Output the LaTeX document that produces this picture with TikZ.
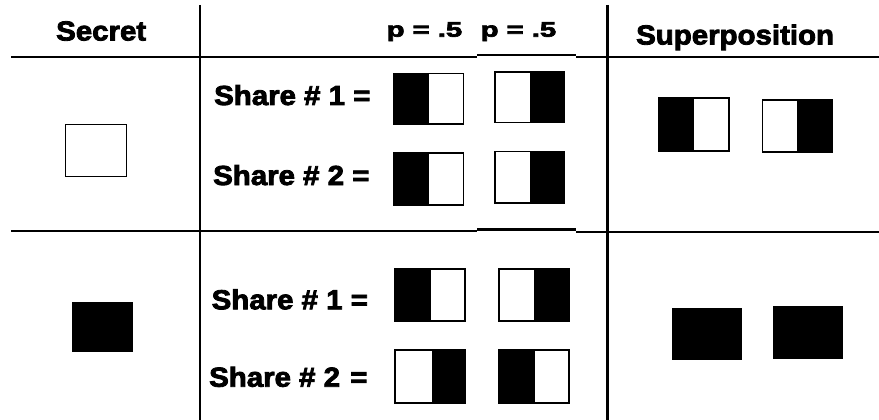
\documentclass[tikz,border=0pt]{standalone}
\usepackage{fontspec}
\usepackage{graphicx}
\newfontfamily\hv{Liberation Sans}[FakeStretch=1.07,BoldFont={Liberation Sans Bold},BoldFeatures={FakeBold=3,FakeStretch=1.07}]
\tikzset{
  rule/.style={line width=2.3pt,black},
  boxline/.style={line width=1.8pt,black},
  thinbox/.style={line width=1.3pt,black},
  lbl/.style={inner sep=0pt,anchor=base west,font=\hv\bfseries\fontsize{27.5}{30}\selectfont},
  plbl/.style={inner sep=0pt,anchor=base west,font=\hv\bfseries\fontsize{21}{24}\selectfont}
}
\newcommand\blackleft[5]{\fill (#1,#2) rectangle (#5,#4); \draw[boxline] (#1,#2) rectangle (#3,#4);}
\newcommand\blackright[5]{\fill (#5,#2) rectangle (#3,#4); \draw[boxline] (#1,#2) rectangle (#3,#4);}
\begin{document}
\begin{tikzpicture}[x=1pt,y=-1pt]
\useasboundingbox (0,0) rectangle (879,420);
% table rules
\draw[rule] (11,57.3) -- (477,57.3);
\draw[rule] (477,54.7) -- (576,54.7);
\draw[rule] (576,57.3) -- (879,57.3);
\draw[rule] (11,231.2) -- (477,231.2);
\draw[rule] (477,229.5) -- (576,229.5);
\draw[rule] (576,231.7) -- (879,231.7);
\draw[rule] (200.3,5) -- (200.3,420);
\draw[rule] (607.4,5) -- (607.4,420);
% headers
\node[lbl] (hsecret) at (56,40.5) {Secret};
\node[plbl] (hp1) at (386.5,36.7) {\scalebox{1.3}[1]{p = .5}};
\node[plbl] (hp2) at (480.5,36.7) {\scalebox{1.3}[1]{p = .5}};
\node[lbl] (hsup) at (636,44.5) {Superposition};
% share labels
\node[lbl] (s11) at (214,105) {Share \# 1 =};
\node[lbl] (s12) at (213,185) {Share \# 2 =};
\node[lbl] (s21) at (211.5,309.3) {Share \# 1 =};
\node[lbl] (s22) at (209,386.7) {Share \# 2\hspace{2pt} =};
% secret boxes
\draw[thinbox] (65.5,124.5) rectangle (126.2,176.2);
\fill (72.3,301.7) rectangle (133.3,352.3);
% upper shares
\blackleft{393.5}{73.5}{463.5}{124.2}{429.3}
\blackright{495.1}{71.8}{564.2}{122.5}{530}
\blackleft{393.5}{153.1}{463.5}{204.9}{429.3}
\blackright{495.1}{151.5}{564.2}{203.2}{530}
% lower shares
\blackleft{395.1}{269.1}{465.2}{320.9}{431}
\blackright{499.1}{269.1}{569.2}{320.9}{534.3}
\blackright{395.1}{350.1}{465.2}{403.2}{431.7}
\blackleft{499.1}{350.1}{569.2}{403.2}{535}
% superposition
\blackleft{658.4}{98.4}{728.6}{151}{694.3}
\blackright{762.4}{99.7}{831.6}{152}{797.3}
\fill (671.7,308.3) rectangle (741.7,360);
\fill (772.7,306) rectangle (842.7,359);
\end{tikzpicture}
\end{document}
